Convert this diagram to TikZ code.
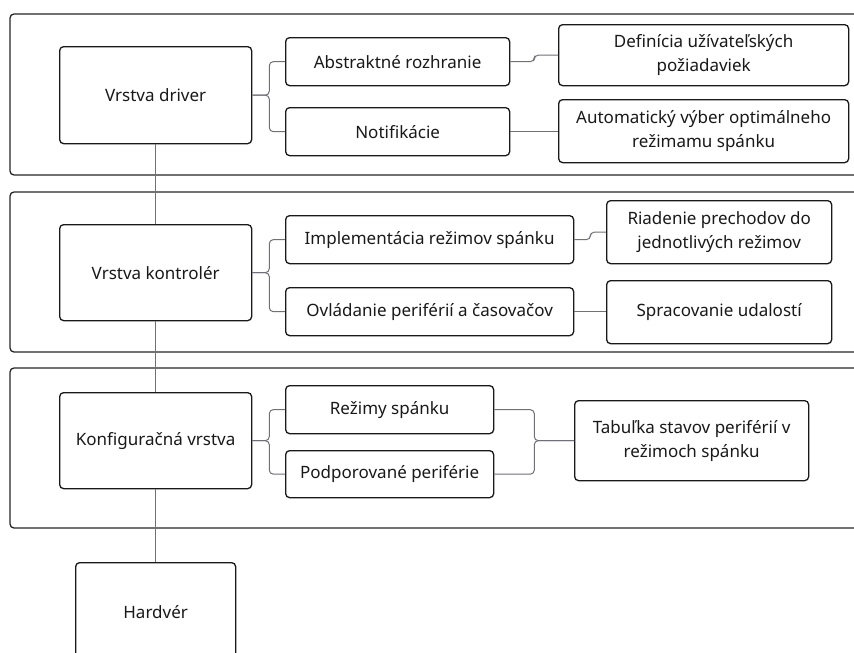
\documentclass[tikz,border=0pt]{standalone}
\usepackage{fontspec}
\setmainfont{Noto Sans}
\definecolor{linegray}{HTML}{70707A}
\begin{document}
\begin{tikzpicture}[x=1pt,y=-1pt,
  frame/.style={draw=black!85, line width=1.3pt, rounded corners=4pt},
  box/.style={draw=black!90, line width=1.3pt, rounded corners=4pt, fill=white, anchor=north west, inner sep=0pt, align=center, font=\fontsize{17}{24}\selectfont, text=black!90},
  conn/.style={draw=linegray, line width=1pt, rounded corners=4pt}]
\clip (0,0) rectangle (854,653);
\fill[white] (0,0) rectangle (854,653);
% layer frames
\draw[frame] (10,14) rectangle (880,175);
\draw[frame] (10,192) rectangle (880,352);
\draw[frame] (10,368) rectangle (880,528);
% layer 1
\node[box, minimum width=192pt, minimum height=97pt] (drv) at (59,46) {Vrstva driver};
\node[box, minimum width=224pt, minimum height=48pt] (abs) at (285,37) {Abstraktné rozhranie};
\node[box, minimum width=224pt, minimum height=48pt] (not) at (285,107) {Notifikácie};
\node[box, minimum width=290pt, minimum height=61pt] (def) at (558,24) {Definícia užívateľských\\požiadaviek};
\node[box, minimum width=290pt, minimum height=63pt] (aut) at (558,99) {Automatický výber optimálneho\\režimamu spánku};
% layer 2
\node[box, minimum width=192pt, minimum height=96pt] (ctl) at (59,224) {Vrstva kontrolér};
\node[box, minimum width=288pt, minimum height=48pt] (imp) at (285,215) {Implementácia režimov spánku};
\node[box, minimum width=288pt, minimum height=48pt] (ovl) at (285,287) {Ovládanie periférií a časovačov};
\node[box, minimum width=225pt, minimum height=63pt] (ria) at (606,200) {Riadenie prechodov do\\jednotlivých režimov};
\node[box, minimum width=225pt, minimum height=63pt] (spr) at (606,280) {Spracovanie udalostí};
% layer 3
\node[box, minimum width=192pt, minimum height=96pt] (kon) at (59,392) {Konfiguračná vrstva};
\node[box, minimum width=208pt, minimum height=48pt] (rez) at (285,385) {Režimy spánku};
\node[box, minimum width=208pt, minimum height=47pt] (pod) at (285,450) {Podporované periférie};
\node[box, minimum width=234pt, minimum height=80pt] (tab) at (574,400) {Tabuľka stavov periférií v\\režimoch spánku};
% hardware
\node[box, minimum width=160pt, minimum height=98pt] (hw) at (75,562) {Hardvér};
% connectors
\draw[conn, rounded corners=0pt] (drv.south) -- (ctl.north);
\draw[conn, rounded corners=0pt] (ctl.south) -- (kon.north);
\draw[conn, rounded corners=0pt] (kon.south) -- (hw.north);
\draw[conn] (drv.east) -- ++(17,0) |- (abs.west);
\draw[conn] (drv.east) -- ++(17,0) |- (not.west);
\draw[conn] (ctl.east) -- ++(17,0) |- (imp.west);
\draw[conn] (ctl.east) -- ++(17,0) |- (ovl.west);
\draw[conn] (kon.east) -- ++(17,0) |- (rez.west);
\draw[conn] (kon.east) -- ++(17,0) |- (pod.west);
\draw[conn] (abs.east) -- ++(24,0) |- (def.west);
\draw[conn] (not.east) -- (aut.west |- not.east);
\draw[conn] (imp.east) -- ++(16,0) |- (ria.west);
\draw[conn] (ovl.east) -- (spr.west |- ovl.east);
\draw[conn] (rez.east) -- ++(40,0) |- (tab.west);
\draw[conn] (pod.east) -- ++(40,0) |- (tab.west);
\end{tikzpicture}
\end{document}
